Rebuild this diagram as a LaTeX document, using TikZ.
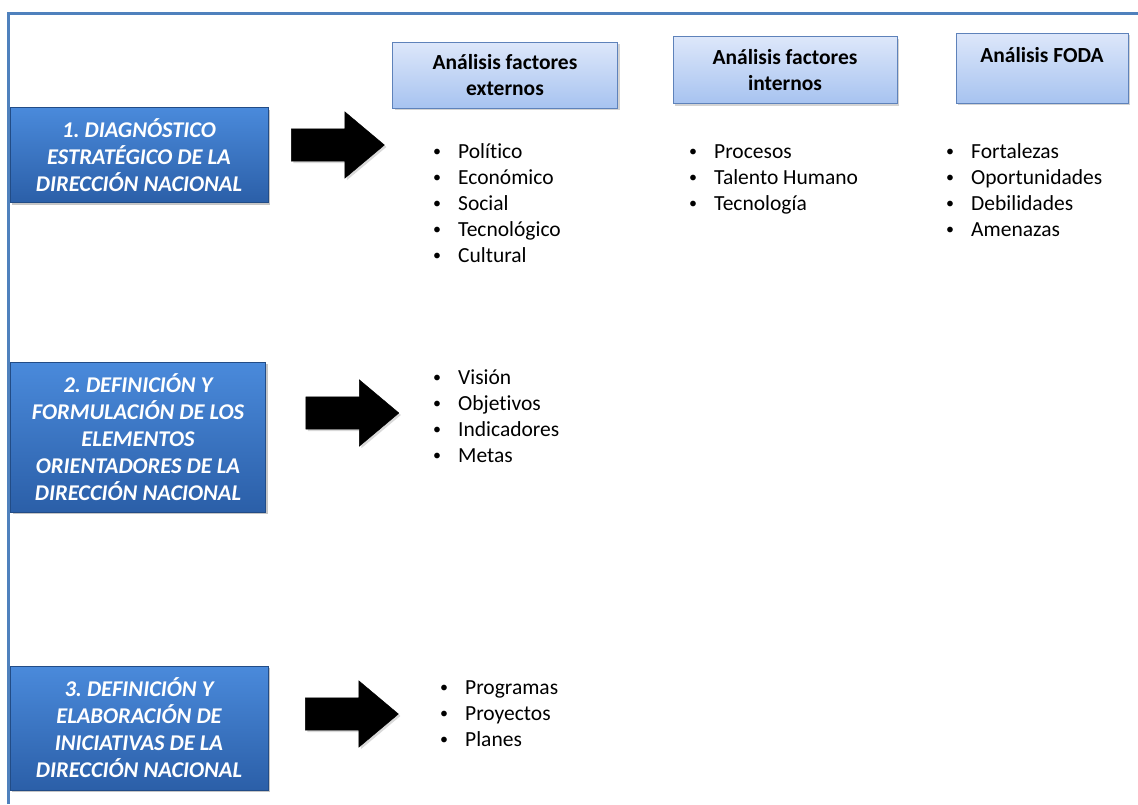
\documentclass[tikz,border=0pt]{standalone}
\usepackage{fontspec}
\setmainfont{Carlito}[Ligatures=NoCommon]
\usetikzlibrary{positioning,shapes.arrows,shadows}
\definecolor{frameblue}{HTML}{4F81BD}
\definecolor{stagetop}{HTML}{4A8ADB}
\definecolor{stagebot}{HTML}{2B5FA8}
\definecolor{headtop}{HTML}{DDE7FA}
\definecolor{headbot}{HTML}{A7C3F0}
\definecolor{headline}{HTML}{5E82BA}
\newcommand{\blt}{\strut\makebox[25pt][l]{\raisebox{1.5pt}{\fontsize{16}{16}\selectfont\textbullet}}}
\frenchspacing

\begin{document}
\begin{tikzpicture}[x=1pt,y=-1pt,node distance=22pt,>=stealth]
		\tikzstyle{stage}=[rectangle, draw=stagebot!80!black, top color=stagetop, bottom color=stagebot, text=white, font=\fontsize{22.5}{27}\selectfont\bfseries\itshape, align=center, inner sep=0pt, drop shadow={opacity=0.45,shadow xshift=2pt,shadow yshift=-2pt}]
		\tikzstyle{factor}=[rectangle, draw=headline, thick, top color=headtop, bottom color=headbot, font=\fontsize{21.5}{26}\selectfont\bfseries, align=center, inner sep=0pt, drop shadow={opacity=0.35,shadow xshift=2pt,shadow yshift=-2pt}]
		\tikzstyle{push}=[single arrow, fill=black, draw=black, minimum height=93pt, single arrow head extend=17pt, single arrow tip angle=80, inner xsep=0pt, inner ysep=16pt, drop shadow={opacity=0.3,shadow xshift=2pt,shadow yshift=-2pt}]
		\tikzstyle{items}=[anchor=north west, align=left, inner sep=0pt, font=\fontsize{21.5}{26}\selectfont]

		\useasboundingbox (0,0) rectangle (1138,804);
		\draw [frameblue, line width=3pt] (8,804) |- (1138,13);

		% stages
		\node [stage, minimum width=258pt, minimum height=95pt] (diag) at (139,155) {1. DIAGNÓSTICO\\ESTRATÉGICO DE LA\\DIRECCIÓN NACIONAL};
		\node [stage, minimum width=255pt, minimum height=150pt] (orient) at (138,437) {2. DEFINICIÓN Y\\FORMULACIÓN DE LOS\\ELEMENTOS\\ORIENTADORES DE LA\\DIRECCIÓN NACIONAL};
		\node [stage, minimum width=258pt, minimum height=124pt] (inic) at (139,728) {3. DEFINICIÓN Y\\ELABORACIÓN DE\\INICIATIVAS DE LA\\DIRECCIÓN NACIONAL};

		\node [push, right=23pt of diag, yshift=10pt] (p1) {};
		\node [push, right=40pt of orient, yshift=24pt] (p2) {};
		\node [push, right=37pt of inic, yshift=14pt] (p3) {};

		% factores
		\node [factor, minimum width=225pt, minimum height=66pt] (ext) at (505,75) {Análisis factores\\externos};
		\node [factor, minimum width=224pt, minimum height=67pt] (int) at (785,70) {Análisis factores\\internos};
		\node [factor, minimum width=172pt, minimum height=70pt] (foda) at (1042,68) {Análisis FODA\\\mbox{}};

		\node [items] (lext) at (433,140) {\blt Político\\\blt Económico\\\blt Social\\\blt Tecnológico\\\blt Cultural};
		\node [items] (lint) at (689,140) {\blt Procesos\\\blt Talento Humano\\\blt Tecnología};
		\node [items] (lfoda) at (946,140) {\blt Fortalezas\\\blt Oportunidades\\\blt Debilidades\\\blt Amenazas};
		\node [items] (lorient) at (433,366) {\blt Visión\\\blt Objetivos\\\blt Indicadores\\\blt Metas};
		\node [items] (linic) at (440,676) {\blt Programas\\\blt Proyectos\\\blt Planes};
	\end{tikzpicture}
\end{document}
